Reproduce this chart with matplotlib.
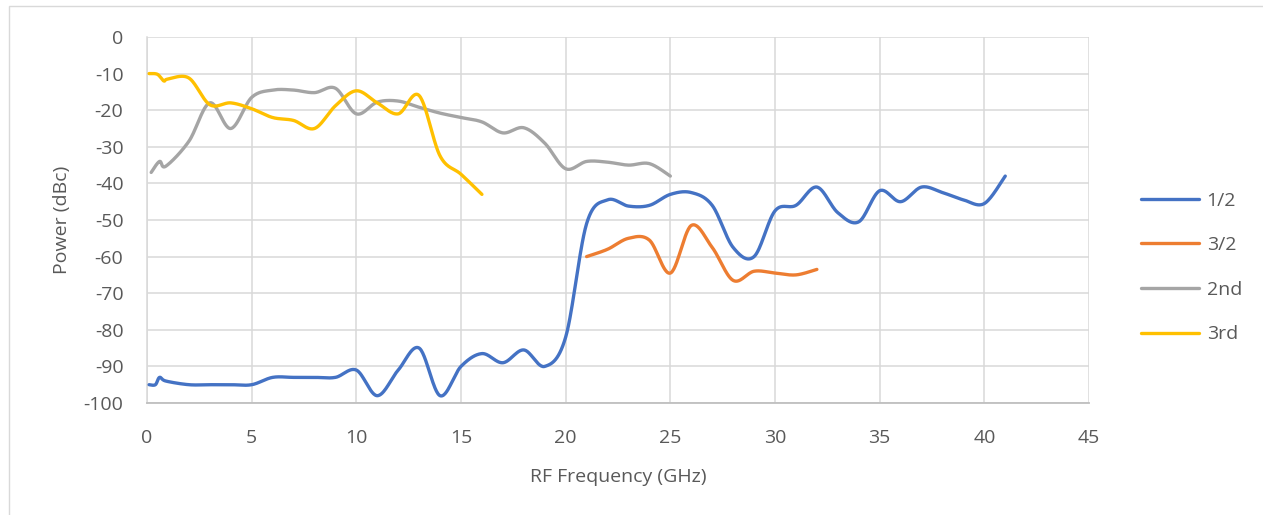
import numpy as np
import matplotlib
matplotlib.use("Agg")
import matplotlib.pyplot as plt
from matplotlib.patches import Rectangle

# ---- data ----
x_half = [0.1, 0.4, 0.6, 0.9, 2, 3, 4, 5, 6, 7, 8, 9, 10, 11, 12, 13, 14, 15, 16, 17, 18, 19, 20,
          21, 22, 23, 24, 25, 26, 27, 28, 29, 30, 31, 32, 33, 34, 35, 36, 37, 38, 39, 40, 41]
y_half = [-95, -95, -93, -94, -95, -95, -95, -95, -93, -93, -93, -93, -91, -98, -91, -85, -98, -90,
          -86.5, -89, -85.5, -90, -82, -51, -44.5, -46.2, -46, -43, -42.5, -46, -57.5, -60, -47.5,
          -46, -41, -48, -50.5, -42, -45, -41, -42.5, -44.5, -45.5, -38]

x_3half = [21, 22, 23, 24, 25, 26, 27, 28, 29, 30, 31, 32]
y_3half = [-60, -58, -55, -55.5, -64.5, -51.5, -57.5, -66.5, -64, -64.5, -65, -63.5]

x_2nd = [0.2, 0.6, 0.9, 2, 3, 4, 5, 6, 7, 8, 9, 10, 11, 12, 13, 14, 15, 16, 17, 18, 19, 20, 21,
         22, 23, 24, 25]
y_2nd = [-37, -34, -35.3, -28.5, -18, -25, -16.5, -14.5, -14.5, -15.2, -14, -21, -17.8, -17.5,
         -19.2, -20.8, -22, -23.2, -26.2, -24.8, -29, -36, -34, -34.2, -35, -34.6, -38]

x_3rd = [0.1, 0.5, 0.8, 1, 2, 3, 4, 5, 6, 7, 8, 9, 10, 11, 12, 13, 14, 15, 16]
y_3rd = [-10, -10.2, -12, -11.5, -11.2, -18.5, -18, -19.6, -22, -22.8, -25, -18.8, -14.7, -18,
         -21, -16, -32.5, -37.5, -43]

labels = ["1/2", "3/2", "2nd", "3rd"]
colors = ["#4472C4", "#ED7D31", "#A5A5A5", "#FFC000"]
x_ticks = [0, 5, 10, 15, 20, 25, 30, 35, 40, 45]
y_ticks = [0, -10, -20, -30, -40, -50, -60, -70, -80, -90, -100]


def smooth(xs, ys, n=30):
    """Excel-like Bezier smoothing (Catmull-Rom control points)."""
    p = np.column_stack([xs, ys]).astype(float)
    out = [p[0]]
    for i in range(len(p) - 1):
        p0 = p[i - 1] if i > 0 else p[i]
        p1 = p[i]
        p2 = p[i + 1]
        p3 = p[i + 2] if i + 2 < len(p) else p[i + 1]
        c1 = p1 + (p2 - p0) / 6.0
        c2 = p2 - (p3 - p1) / 6.0
        t = np.linspace(0, 1, n)[1:, None]
        seg = ((1 - t) ** 3) * p1 + 3 * ((1 - t) ** 2) * t * c1 + 3 * (1 - t) * t ** 2 * c2 + t ** 3 * p2
        out.extend(seg)
    out = np.array(out)
    return out[:, 0], out[:, 1]


plt.rcParams['font.family'] = ['Open Sans', 'DejaVu Sans']
fig = plt.figure(figsize=(12.63, 5.15), dpi=100)
fig.patches.append(Rectangle((9 / 1263, -0.1), 1.2, 1 - 6 / 515 + 0.1, transform=fig.transFigure,
                             fill=False, edgecolor="#d9d9d9", linewidth=1.0))
ax = fig.add_axes([147 / 1263, 1 - 403 / 515, (1089 - 147) / 1263, (403 - 37) / 515])

series = [(x_half, y_half), (x_3half, y_3half), (x_2nd, y_2nd), (x_3rd, y_3rd)]
for (xs, ys), lab, col in zip(series, labels, colors):
    sx, sy = smooth(xs, ys)
    ax.plot(sx, sy, color=col, linewidth=2.4, label=lab, solid_capstyle="round", zorder=3)

ax.set_xlim(0, 45)
ax.set_ylim(-100, 0)
ax.set_xticks(x_ticks)
ax.set_yticks(y_ticks)
ax.set_xticklabels([str(v) for v in x_ticks])
ax.set_yticklabels([str(v) for v in y_ticks])
ax.grid(True, color="#d9d9d9", linewidth=1.1, zorder=0)
ax.set_axisbelow(True)
for s in ["top", "right"]:
    ax.spines[s].set_visible(False)
ax.spines["left"].set_color("#d9d9d9")
ax.spines["bottom"].set_color("#bfbfbf")
ax.spines["left"].set_linewidth(1.1)
ax.spines["bottom"].set_linewidth(1.3)
ax.tick_params(axis="both", length=0, labelsize=14, labelcolor="#595959")
ax.tick_params(axis="y", pad=17)
ax.tick_params(axis="x", pad=19)
ax.set_xlabel("RF Frequency (GHz)", fontsize=14, color="#595959", labelpad=15)
ax.set_ylabel("Power (dBc)", fontsize=14, color="#595959", labelpad=9)

leg = ax.legend(loc="upper left", bbox_to_anchor=(1123 / 1263, 1 - 174 / 515),
                bbox_transform=fig.transFigure, frameon=False, fontsize=14,
                handlelength=3.0, labelspacing=1.37, handletextpad=0.4)
for t in leg.get_texts():
    t.set_color("#595959")

fig.savefig("out.png", dpi=100)
